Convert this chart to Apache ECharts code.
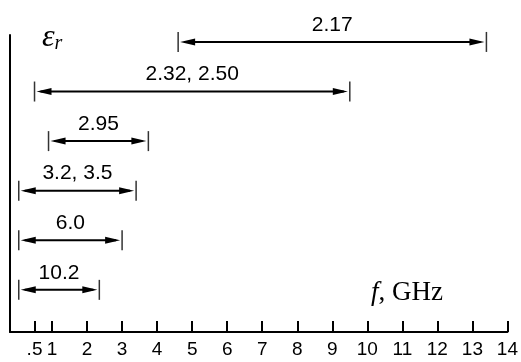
<!DOCTYPE html>
<html>
<head>
<meta charset="utf-8">
<script src="https://cdn.jsdelivr.net/npm/echarts@6/dist/echarts.min.js"></script>
<style>
  html, body { margin: 0; padding: 0; background: #fff; }
  #main { width: 521px; height: 362px; }
</style>
</head>
<body>
<div id="main"></div>
<script>
// dielectric constants (bottom row first) and usable frequency spans, GHz
const epsLabels = ['10.2', '6.0', '3.2, 3.5', '2.95', '2.32, 2.50', '2.17'];
const fStart = [0.05, 0.05, 0.05, 0.9, 0.5, 4.6];
const fEnd = [2.35, 3.0, 3.4, 3.75, 9.5, 13.4];
const tickValues = [0.5, 1, 2, 3, 4, 5, 6, 7, 8, 9, 10, 11, 12, 13, 14];

const data = fStart.map((s, i) => [s, fEnd[i], i]);

const chart = echarts.init(document.getElementById('main'), null, { renderer: 'canvas' });

function renderRange(params, api) {
  const row = api.value(2);
  const p0 = api.coord([api.value(0), row]);
  const p1 = api.coord([api.value(1), row]);
  const y = p0[1];
  const x0 = p0[0], x1 = p1[0];
  const ah = 15, aw = 3.5, gap = 2;
  return {
    type: 'group',
    children: [
      { type: 'line', shape: { x1: x0, y1: y - 10, x2: x0, y2: y + 10 }, style: { stroke: '#333', lineWidth: 1.5 } },
      { type: 'line', shape: { x1: x1, y1: y - 10, x2: x1, y2: y + 10 }, style: { stroke: '#333', lineWidth: 1.5 } },
      { type: 'line', shape: { x1: x0 + gap + 4, y1: y, x2: x1 - gap - 4, y2: y }, style: { stroke: '#000', lineWidth: 2 } },
      { type: 'polygon', shape: { points: [[x0 + gap, y], [x0 + gap + ah, y - aw], [x0 + gap + ah, y + aw]] }, style: { fill: '#000' } },
      { type: 'polygon', shape: { points: [[x1 - gap, y], [x1 - gap - ah, y - aw], [x1 - gap - ah, y + aw]] }, style: { fill: '#000' } },
      {
        type: 'text',
        style: {
          text: epsLabels[params.dataIndex], x: (x0 + x1) / 2, y: y - 17,
          align: 'center', verticalAlign: 'middle',
          font: '21px "Liberation Sans", Arial, sans-serif', fill: '#000'
        }
      }
    ]
  };
}

const option = {
  animation: false,
  backgroundColor: '#fff',
  grid: { left: 10, right: 11, top: 35, bottom: 30, containLabel: false },
  xAxis: {
    type: 'value',
    min: -0.2,
    max: 14,
    axisLine: { onZero: false, lineStyle: { color: '#000', width: 2 } },
    axisTick: { inside: true, length: 11, customValues: tickValues, lineStyle: { color: '#000', width: 2 } },
    axisLabel: {
      customValues: tickValues,
      margin: 8,
      color: '#000',
      fontSize: 19,
      fontFamily: '"Liberation Sans", Arial, sans-serif',
      formatter: v => (v === 0.5 ? '.5' : String(v))
    },
    splitLine: { show: false }
  },
  yAxis: {
    type: 'value',
    min: -0.85,
    max: 5.14,
    axisLine: { show: true, onZero: false, lineStyle: { color: '#000', width: 2 } },
    axisTick: { show: false },
    axisLabel: { show: false },
    splitLine: { show: false }
  },
  graphic: [
    {
      type: 'text', left: 42, top: 22,
      style: {
        text: '{e|ε}{s|r}',
        rich: {
          e: { font: 'italic 32px "Liberation Serif", serif', fill: '#000' },
          s: { font: 'italic 20px "Liberation Serif", serif', fill: '#000', padding: [12, 0, 0, 0] }
        }
      }
    },
    {
      type: 'text', left: 371, top: 279,
      style: {
        text: '{i|f}{n|, GHz}',
        rich: {
          i: { font: 'italic 27px "Liberation Serif", serif', fill: '#000' },
          n: { font: '27px "Liberation Serif", serif', fill: '#000' }
        }
      }
    }
  ],
  series: [{
    type: 'custom',
    renderItem: renderRange,
    encode: { x: [0, 1], y: 2 },
    data: data
  }]
};

chart.setOption(option);
</script>
</body>
</html>
